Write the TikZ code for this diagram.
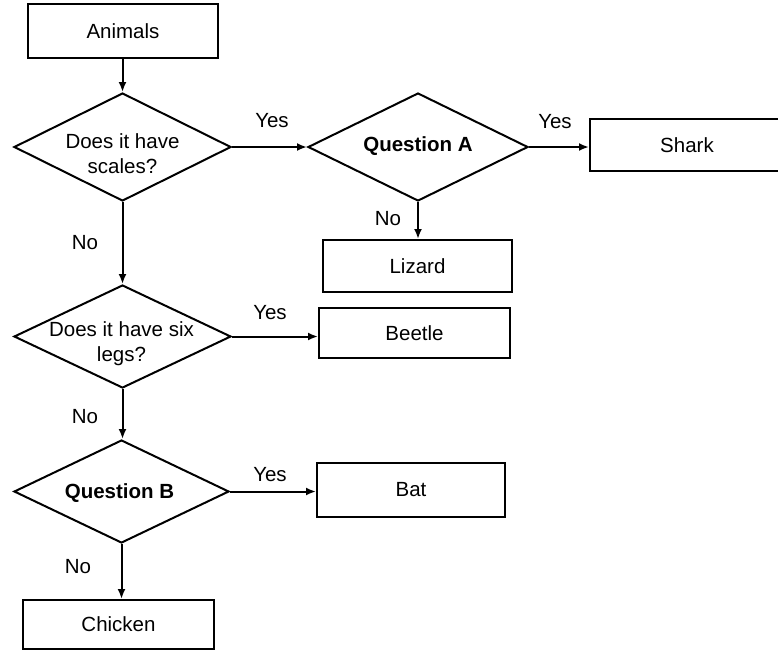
\documentclass[tikz,border=0pt]{standalone}
\usepackage{fontspec}
\setmainfont{Liberation Sans}
\usetikzlibrary{shapes.geometric,arrows.meta}
\begin{document}
\begin{tikzpicture}[x=1pt,y=-1pt,line width=2pt,
  box/.style={draw,rectangle,inner sep=0pt,font=\fontsize{20.5}{24}\selectfont},
  dia/.style={draw,diamond,inner sep=0pt},
  txt/.style={font=\fontsize{20.5}{25}\selectfont,align=center,inner sep=0pt},
  lbl/.style={font=\fontsize{20.5}{24}\selectfont,inner sep=0pt},
  arr/.style={-{Latex[length=10pt,width=8pt]},line width=2pt}]
\useasboundingbox (0,0) rectangle (778,651);
\clip (0,0) rectangle (778,651);
% boxes
\node[box,minimum width=190pt,minimum height=54pt] (animals) at (123,31) {Animals};
\node[box,minimum width=194pt,minimum height=52pt] (shark) at (687,145) {Shark};
\node[box,minimum width=189pt,minimum height=52pt] (lizard) at (417.5,266) {Lizard};
\node[box,minimum width=191pt,minimum height=50pt] (beetle) at (414.5,333) {Beetle};
\node[box,minimum width=188pt,minimum height=54pt] (bat) at (411,490) {Bat};
\node[box,minimum width=191pt,minimum height=49pt] (chicken) at (118.5,624.5) {Chicken};
% diamonds
\node[dia,minimum width=217pt,minimum height=108pt] (d1) at (122.5,147) {};
\node[dia,minimum width=220pt,minimum height=108pt] (qa) at (418,147) {};
\node[dia,minimum width=217pt,minimum height=103pt] (d2) at (122.5,336.5) {};
\node[dia,minimum width=215pt,minimum height=103pt] (d3) at (121.5,491.5) {};
% diamond texts
\node[txt] (t1) at (122.5,154) {Does it have\\scales?};
\node[txt] (tqa) at (418,146) {\bfseries Question A};
\node[txt] (t2) at (121.5,344) {Does it have six\\legs?};
\node[txt] (t3) at (119.5,493) {\bfseries Question B};
% connectors
\draw[arr] (animals.south -| d1.north) -- (d1.north);
\draw[arr] (d1.east) -- (qa.west);
\draw[arr] (qa.east) -- (qa.east -| shark.west);
\draw[arr] (qa.south) -- (qa.south |- lizard.north);
\draw[arr] (d1.south) -- (d2.north);
\draw[arr] (d2.east) -- (d2.east -| beetle.west);
\draw[arr] (d2.south) -- (d2.south |- d3.north);
\draw[arr] (d3.east) -- (d3.east -| bat.west);
\draw[arr] (d3.south) -- (d3.south |- chicken.north);
% labels
\node[lbl] (y1) at (272,121) {Yes};
\node[lbl] (n1) at (85,243) {No};
\node[lbl] (y2) at (555,122) {Yes};
\node[lbl] (n2) at (388,219) {No};
\node[lbl] (y3) at (270,313) {Yes};
\node[lbl] (n3) at (85,417) {No};
\node[lbl] (y4) at (270,475) {Yes};
\node[lbl] (n4) at (78,567) {No};
\end{tikzpicture}
\end{document}
